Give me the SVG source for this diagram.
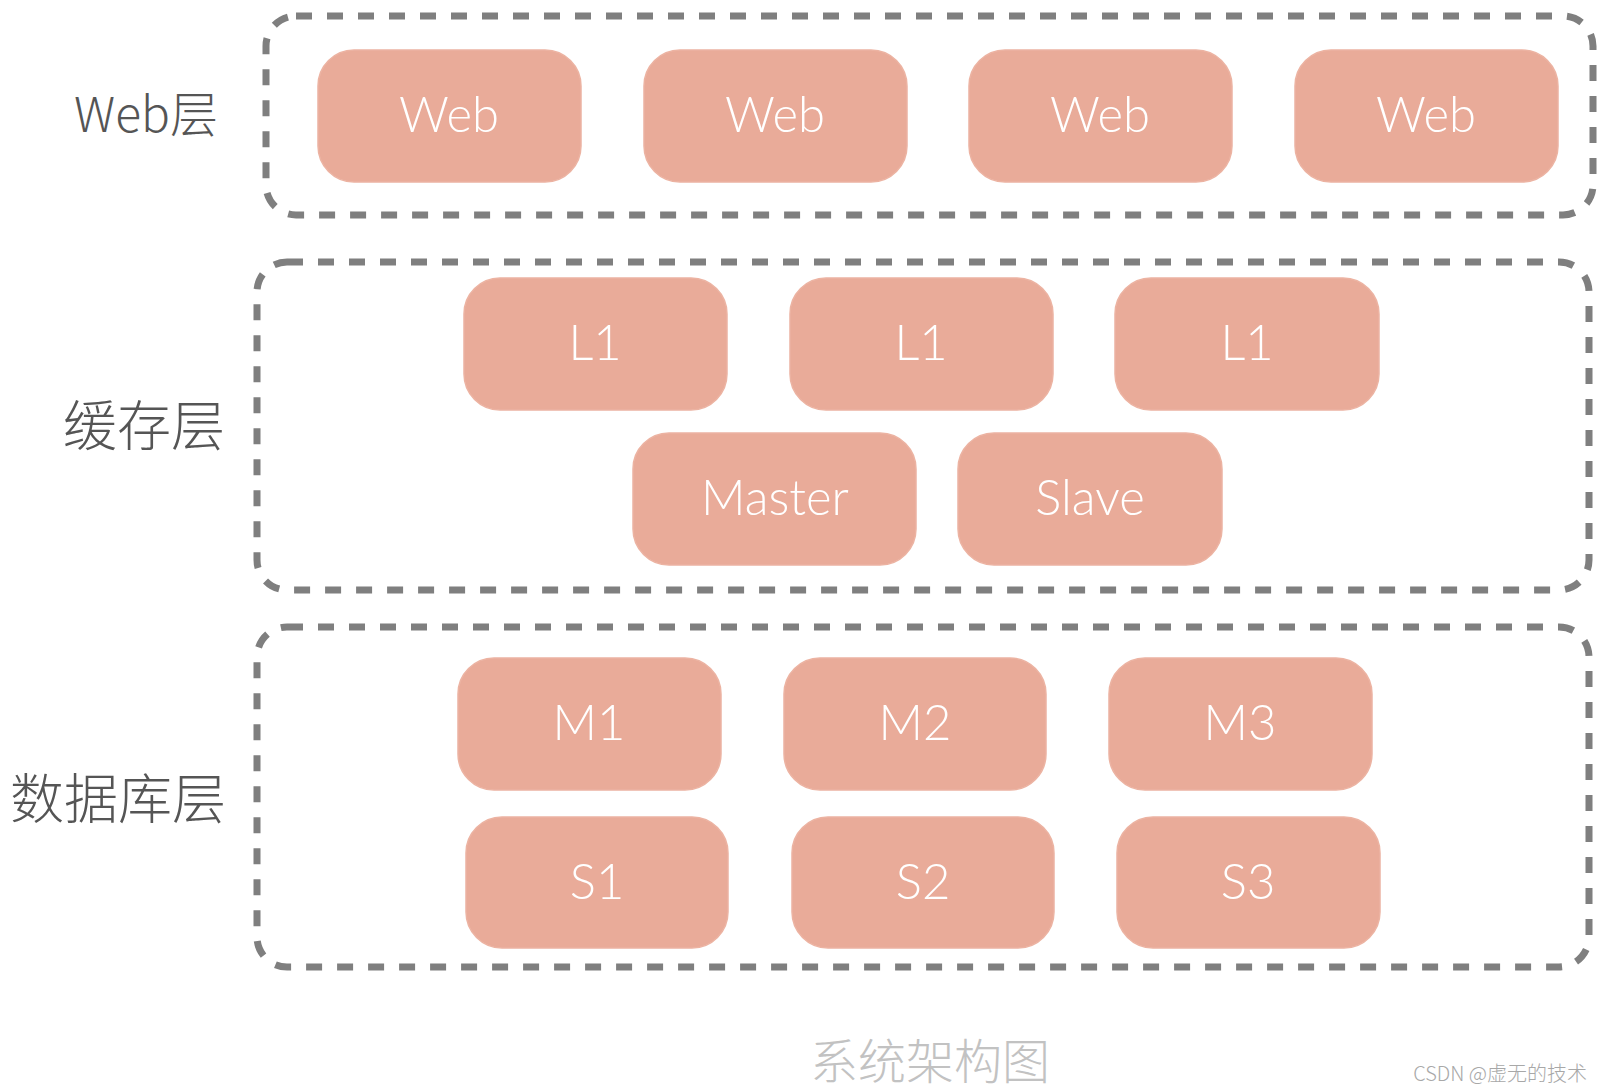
<svg xmlns="http://www.w3.org/2000/svg" width="1602" height="1092" viewBox="0 0 1602 1092">
<style>
.layer{fill:none;stroke:#7f7f7f;stroke-width:7;stroke-dasharray:16 15}
.node rect{fill:#E9AB99;stroke:#ECB3A2;stroke-width:1.5}
.node text{fill:#ffffff;font-family:"Lato","Open Sans",sans-serif;font-weight:300;font-size:49px;text-anchor:middle}
.lbl{fill:#555555;font-family:"Noto Sans CJK SC","Noto Sans",sans-serif;font-weight:300;text-anchor:middle}
</style>
<rect width="1602" height="1092" fill="#ffffff"/>
<g id="layers">
<rect class="layer" x="266" y="16" width="1327" height="199" rx="30"/>
<rect class="layer" x="257" y="262" width="1332" height="328" rx="30"/>
<rect class="layer" x="257" y="627" width="1332" height="340" rx="30"/>
</g>
<g id="labels">
<text class="lbl" x="146" y="132" font-size="48">Web层</text>
<text class="lbl" x="144" y="446" font-size="54">缓存层</text>
<text class="lbl" x="118" y="819" font-size="54">数据库层</text>
<text class="lbl" x="930" y="1079" font-size="48" style="fill:#c2c2c2">系统架构图</text>
<text x="1587" y="1081" font-size="20" fill="#a8a8a8" text-anchor="end" font-family="Noto Sans CJK SC, sans-serif" font-weight="300">CSDN @虚无的技术</text>
</g>
<g id="web1" class="node"><rect x="318" y="50" width="263" height="132" rx="36"/><text x="449" y="132">Web</text></g>
<g id="web2" class="node"><rect x="644" y="50" width="263" height="132" rx="36"/><text x="775" y="132">Web</text></g>
<g id="web3" class="node"><rect x="969" y="50" width="263" height="132" rx="36"/><text x="1100" y="132">Web</text></g>
<g id="web4" class="node"><rect x="1295" y="50" width="263" height="132" rx="36"/><text x="1426" y="132">Web</text></g>
<g id="l1a" class="node"><rect x="464" y="278" width="263" height="132" rx="36"/><text x="595" y="360">L1</text></g>
<g id="l1b" class="node"><rect x="790" y="278" width="263" height="132" rx="36"/><text x="921" y="360">L1</text></g>
<g id="l1c" class="node"><rect x="1115" y="278" width="264" height="132" rx="36"/><text x="1247" y="360">L1</text></g>
<g id="master" class="node"><rect x="633" y="433" width="283" height="132" rx="36"/><text x="775" y="515">Master</text></g>
<g id="slave" class="node"><rect x="958" y="433" width="264" height="132" rx="36"/><text x="1090" y="515">Slave</text></g>
<g id="m1" class="node"><rect x="458" y="658" width="263" height="132" rx="36"/><text x="589" y="740">M1</text></g>
<g id="m2" class="node"><rect x="784" y="658" width="262" height="132" rx="36"/><text x="915" y="740">M2</text></g>
<g id="m3" class="node"><rect x="1109" y="658" width="263" height="132" rx="36"/><text x="1240" y="740">M3</text></g>
<g id="s1" class="node"><rect x="466" y="817" width="262" height="131" rx="36"/><text x="597" y="899">S1</text></g>
<g id="s2" class="node"><rect x="792" y="817" width="262" height="131" rx="36"/><text x="923" y="899">S2</text></g>
<g id="s3" class="node"><rect x="1117" y="817" width="263" height="131" rx="36"/><text x="1248" y="899">S3</text></g>
<g id="connectors"></g>
</svg>
